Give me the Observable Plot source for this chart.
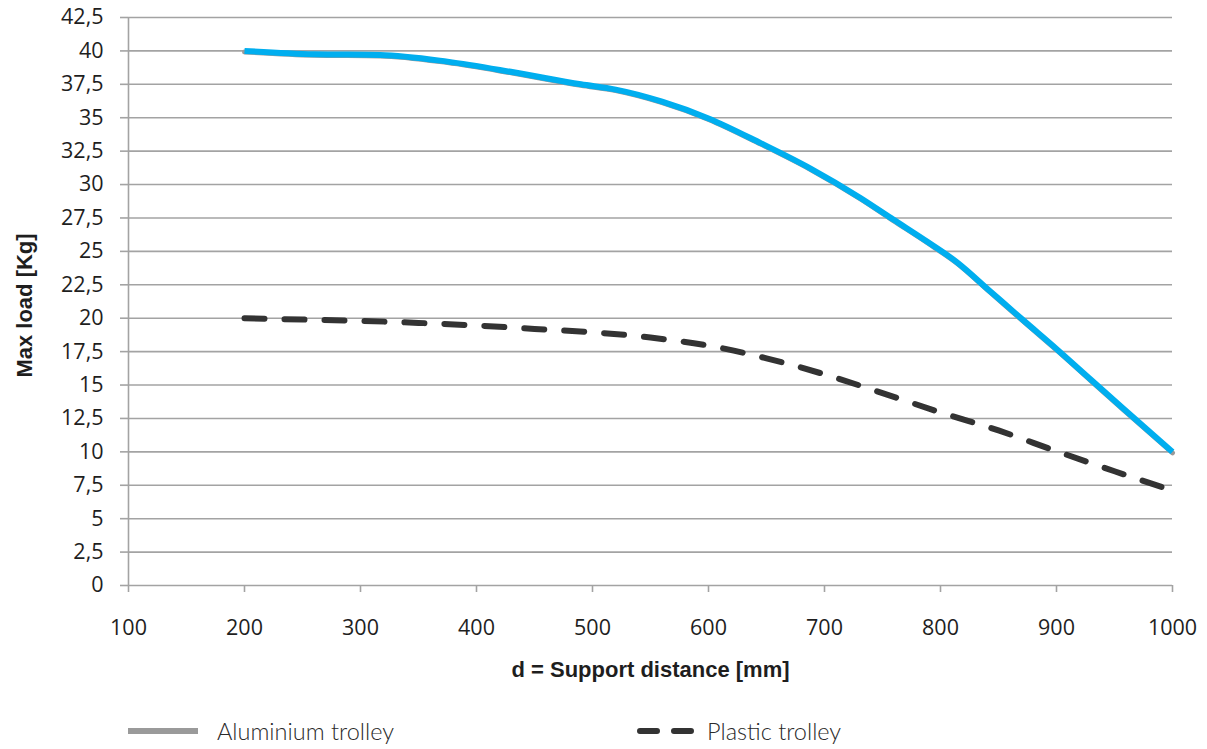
<!DOCTYPE html>
<html>
<head>
<meta charset="utf-8">
<script src="https://cdn.jsdelivr.net/npm/d3@7"></script>
<script src="https://cdn.jsdelivr.net/npm/@observablehq/plot@0.6"></script>
<style>
  html, body { margin: 0; padding: 0; background: #fff; }
  #wrap { position: relative; width: 1207px; height: 749px; overflow: hidden; }
  #legend { position: absolute; left: 0; top: 712px; width: 1207px; height: 37px; font-family: Lato, "Open Sans", sans-serif; font-weight: 300; font-size: 23.5px; color: #2a2a2a; }
  .item { position: absolute; top: 0; display: flex; align-items: center; height: 37px; }
  .item svg { margin-right: 19px; }
</style>
</head>
<body>
<div id="wrap">
  <div id="chart"></div>
  <div id="legend"></div>
</div>
<script>
// ---- data ----
const xTicks = [100, 200, 300, 400, 500, 600, 700, 800, 900, 1000];
const yTicks = [0, 2.5, 5, 7.5, 10, 12.5, 15, 17.5, 20, 22.5, 25, 27.5, 30, 32.5, 35, 37.5, 40, 42.5];

const aluDistance = [200, 260, 317, 375, 432, 490, 520, 560, 600, 645, 688, 731, 759, 789, 814, 843, 872, 900, 929, 958, 1000];
const aluLoad     = [40, 39.75, 39.7, 39.2, 38.4, 37.5, 37.1, 36.2, 34.95, 33.1, 31.2, 29.0, 27.4, 25.7, 24.2, 22.0, 19.8, 17.7, 15.45, 13.2, 10];

const plaDistance = [200, 250, 300, 350, 400, 450, 500, 550, 600, 650, 700, 750, 800, 850, 900, 950, 1000];
const plaLoad     = [20, 19.9, 19.8, 19.65, 19.45, 19.2, 18.95, 18.55, 17.95, 17.0, 15.8, 14.4, 12.95, 11.6, 10.05, 8.55, 7.1];

const seriesNames = ["Aluminium trolley", "Plastic trolley"];
const xLabel = "d = Support distance [mm]";
const yLabel = "Max load [Kg]";

const alu = aluDistance.map((d, i) => ({d, load: aluLoad[i]}));
const pla = plaDistance.map((d, i) => ({d, load: plaLoad[i]}));

const fmt = v => String(v).replace(".", ",");
const gridColor = "#a3a3a3";

const chart = Plot.plot({
  width: 1207,
  height: 705,
  marginLeft: 128,
  marginRight: 35,
  marginTop: 17,
  marginBottom: 120,
  style: {fontFamily: "'Open Sans', sans-serif", fontSize: "21.5px", color: "#1e1e1e", background: "#fff"},
  x: {domain: [100, 1000]},
  y: {domain: [0, 42.5]},
  marks: [
    Plot.ruleY(yTicks, {stroke: gridColor, strokeWidth: 1.6}),
    Plot.ruleX([100], {y1: 0, y2: 42.5, stroke: gridColor, strokeWidth: 1.6}),
    Plot.axisY({ticks: yTicks, tickSize: 8, tickPadding: 17, tickFormat: fmt, label: null, stroke: gridColor, strokeWidth: 1.6, fill: "#1e1e1e"}),
    Plot.axisX({ticks: xTicks, tickSize: 7, tickPadding: 27, tickFormat: d => String(d), label: null, stroke: gridColor, strokeWidth: 1.6, fill: "#1e1e1e"}),
    Plot.line(pla, {x: "d", y: "load", stroke: "#333333", strokeWidth: 6, strokeDasharray: "20,20", strokeLinecap: "round", curve: "monotone-x"}),
    Plot.line(alu, {x: "d", y: "load", stroke: "#9a9a9a", strokeWidth: 5, curve: "monotone-x", dy: 1}),
    Plot.line(alu, {x: "d", y: "load", stroke: "#00aeef", strokeWidth: 6, curve: "monotone-x", strokeLinecap: "butt"}),
    Plot.text([xLabel], {frameAnchor: "bottom", dy: 91, fontWeight: "bold", fontSize: 22, fontFamily: "'Liberation Sans', Arial, sans-serif", fill: "#1e1e1e"}),
    Plot.text([yLabel], {frameAnchor: "left", textAnchor: "middle", dx: -104, dy: 4, rotate: -90, fontWeight: "bold", fontSize: 22, fontFamily: "'Liberation Sans', Arial, sans-serif", fill: "#1e1e1e"})
  ]
});
document.getElementById("chart").appendChild(chart);

// ---- legend (HTML, below the SVG) ----
const legend = document.getElementById("legend");
const legendItems = [
  {name: seriesNames[0], left: 128, gap: 19, sample: '<svg width="70" height="12"><line x1="0" y1="6" x2="70" y2="6" stroke="#9a9a9a" stroke-width="6"/></svg>'},
  {name: seriesNames[1], left: 637, gap: 12, sample: '<svg width="58" height="12"><line x1="3" y1="6" x2="58" y2="6" stroke="#333" stroke-width="6" stroke-linecap="round" stroke-dasharray="17,17"/></svg>'}
];
legendItems.forEach(it => {
  const div = document.createElement("div");
  div.className = "item";
  div.style.left = it.left + "px";
  div.innerHTML = it.sample + "<span>" + it.name + "</span>";
  div.querySelector("svg").style.marginRight = it.gap + "px";
  legend.appendChild(div);
});
</script>
</body>
</html>
